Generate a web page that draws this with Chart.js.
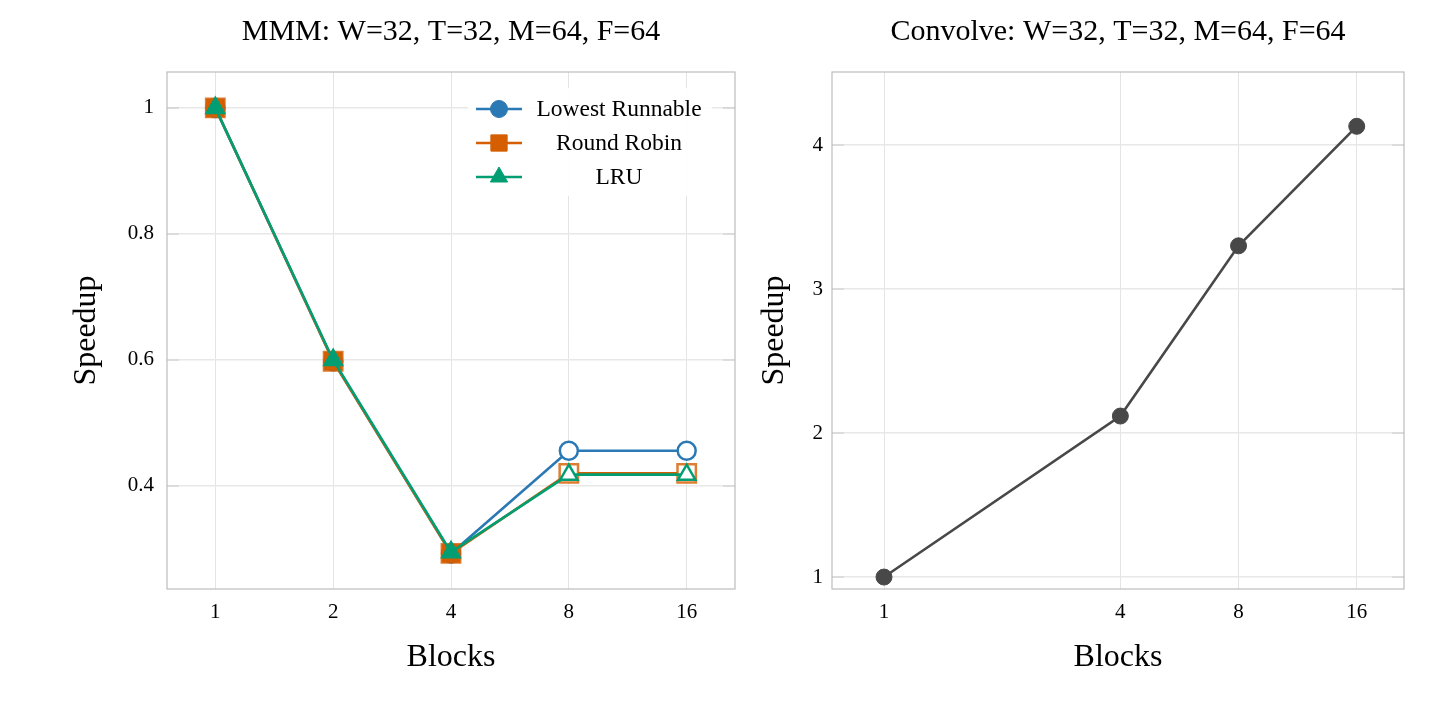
<!DOCTYPE html>
<html><head><meta charset="utf-8">
<script src="https://cdn.jsdelivr.net/npm/chart.js@4.4.1/dist/chart.umd.min.js"></script>
<style>
html,body{margin:0;padding:0;background:#fff;width:1440px;height:705px;overflow:hidden}
.box{position:absolute;top:0;height:705px}
#b1{left:0;width:760px}
#b2{left:740px;width:700px}
</style></head><body>
<div class="box" id="b1"><canvas id="c1"></canvas></div>
<div class="box" id="b2"><canvas id="c2"></canvas></div>
<script>
// ---- data ----
const mmmBlocks = [1, 2, 4, 8, 16];
const lowestRunnable = [1.0, 0.598, 0.293, 0.456, 0.456];
const roundRobin = [1.0, 0.598, 0.293, 0.420, 0.420];
const lru = [1.0, 0.600, 0.295, 0.418, 0.418];
const convBlocks = [1, 4, 8, 16];
const convSpeedup = [1.0, 2.118, 3.30, 4.13];
const mmmXTicks = [1, 2, 4, 8, 16];
const convXTicks = [1, 4, 8, 16];
const mmmYTicks = [0.4, 0.6, 0.8, 1];
const convYTicks = [1, 2, 3, 4];
const seriesNames = ['Lowest Runnable', 'Round Robin', 'LRU'];
const mmmTitle = 'MMM: W=32, T=32, M=64, F=64';
const convTitle = 'Convolve: W=32, T=32, M=64, F=64';

const SERIF = '"Liberation Serif", "DejaVu Serif", serif';
const BLUE = '#2a78b4', ORANGE = '#d55e00', GREEN = '#029e73', GRAY = '#484848';

const pts = (xs, ys) => xs.map((x, i) => ({x: x, y: ys[i]}));
const fills = (c, n, filledCount) => Array.from({length: n}, (_, i) => i < filledCount ? c : '#ffffff');

function drawMarker(ctx, style, x, y, r, fill, stroke, bw) {
  ctx.save();
  ctx.beginPath();
  if (style === 'circle') {
    ctx.arc(x, y, r, 0, Math.PI * 2);
  } else if (style === 'rect') {
    const s = Math.SQRT1_2 * r;
    ctx.rect(x - s, y - s, 2 * s, 2 * s);
  } else if (style === 'triangle') {
    for (let k = 0; k < 3; k++) {
      const a = -Math.PI / 2 + k * 2 * Math.PI / 3;
      const px = x + r * Math.cos(a), py = y + r * Math.sin(a);
      if (k === 0) ctx.moveTo(px, py); else ctx.lineTo(px, py);
    }
    ctx.closePath();
  }
  ctx.fillStyle = fill; ctx.fill();
  ctx.lineWidth = bw; ctx.strokeStyle = stroke; ctx.stroke();
  ctx.restore();
}

const frame = {
  id: 'frame',
  beforeDatasetsDraw(chart) {
    const a = chart.chartArea, ctx = chart.ctx;
    ctx.save();
    // inward tick marks on the y axis (both sides)
    ctx.strokeStyle = '#d6d6d6'; ctx.lineWidth = 1.6;
    chart.scales.y.ticks.forEach(t => {
      const py = chart.scales.y.getPixelForValue(t.value);
      ctx.beginPath();
      ctx.moveTo(a.left, py); ctx.lineTo(a.left + 12, py);
      ctx.moveTo(a.right - 12, py); ctx.lineTo(a.right, py);
      ctx.stroke();
    });
    ctx.strokeStyle = '#bdbdbd'; ctx.lineWidth = 1.2;
    ctx.strokeRect(a.left, a.top, a.right - a.left, a.bottom - a.top);
    ctx.restore();
  }
};

const innerLegend = {
  id: 'innerLegend',
  afterDatasetsDraw(chart, args, opts) {
    if (!opts || !opts.show) return;
    const a = chart.chartArea, ctx = chart.ctx;
    const x0 = a.right - 267, y0 = a.top + 16, w = 244, h = 108;
    ctx.save();
    ctx.fillStyle = 'rgba(255,255,255,0.9)';
    ctx.fillRect(x0, y0, w, h);
    chart.data.datasets.forEach((ds, i) => {
      const y = y0 + 21 + i * 34;
      ctx.strokeStyle = ds.borderColor; ctx.lineWidth = 2.6;
      ctx.beginPath(); ctx.moveTo(x0 + 8, y); ctx.lineTo(x0 + 54, y); ctx.stroke();
      drawMarker(ctx, ds.pointStyle, x0 + 31, y, ds.legendRadius, ds.borderColor, ds.borderColor, 1);
      ctx.fillStyle = '#000';
      ctx.font = '23.5px ' + SERIF;
      ctx.textAlign = 'center'; ctx.textBaseline = 'middle';
      ctx.fillText(ds.label, x0 + 151, y + 1);
    });
    ctx.restore();
  }
};

function makeChart(canvasId, cfg) {
  return new Chart(document.getElementById(canvasId), {
    type: 'line',
    data: {datasets: cfg.datasets},
    plugins: [frame, innerLegend],
    options: {
      responsive: true, maintainAspectRatio: false, animation: false, devicePixelRatio: 1,
      layout: {padding: {left: 0, right: cfg.padRight, top: 0, bottom: 0}},
      plugins: {
        legend: {display: false},
        tooltip: {enabled: false},
        title: {display: true, text: cfg.title, fullSize: false, color: '#000',
          font: {family: SERIF, size: 30, weight: 'normal'}, padding: {top: 14, bottom: 22}},
        innerLegend: {show: cfg.legend}
      },
      scales: {
        x: {
          type: 'logarithmic', bounds: 'data', min: cfg.xmin, max: cfg.xmax,
          afterBuildTicks: s => { s.ticks = cfg.xticks.map(v => ({value: v})); },
          afterFit: s => { s.height = 116; s.paddingLeft = 0; s.paddingRight = 0; },
          ticks: {callback: v => String(v), color: '#000', font: {family: SERIF, size: 21}, padding: 11, maxRotation: 0, autoSkip: false},
          grid: {color: '#e4e4e4', lineWidth: 1, drawTicks: false},
          border: {display: false},
          title: {display: true, text: 'Blocks', color: '#000', font: {family: SERIF, size: 32}, padding: {top: 0, bottom: 28}}
        },
        y: {
          type: 'linear', bounds: 'data', min: cfg.ymin, max: cfg.ymax,
          afterBuildTicks: s => { s.ticks = cfg.yticks.map(v => ({value: v})); },
          afterFit: s => { s.width = cfg.yWidth; s.paddingTop = 0; s.paddingBottom = 0; },
          ticks: {callback: v => String(v), color: '#000', font: {family: SERIF, size: 21}, padding: cfg.yTickPad},
          grid: {color: '#e8e8e8', lineWidth: 1.6, drawTicks: false},
          border: {display: false},
          title: {display: true, text: 'Speedup', color: '#000', font: {family: SERIF, size: 32}, padding: {top: cfg.yTitlePad, bottom: 0}}
        }
      }
    }
  });
}

makeChart('c1', {
  title: mmmTitle, legend: true, padRight: 25, yWidth: 167, yTitlePad: 67, yTickPad: 13,
  xmin: Math.pow(2, -0.41), xmax: Math.pow(2, 4.41), xticks: mmmXTicks,
  ymin: 0.2365, ymax: 1.057, yticks: mmmYTicks,
  datasets: [
    {label: seriesNames[0], data: pts(mmmBlocks, lowestRunnable), order: 3, borderColor: BLUE,
     pointBackgroundColor: fills(BLUE, 5, 3), pointBorderColor: BLUE, pointStyle: 'circle',
     pointRadius: 9, pointBorderWidth: 2.5, borderWidth: 2.6, legendRadius: 8.5},
    {label: seriesNames[1], data: pts(mmmBlocks, roundRobin), order: 2, borderColor: ORANGE,
     pointBackgroundColor: fills(ORANGE, 5, 3), pointBorderColor: 'rgba(213,94,0,0.8)', pointStyle: 'rect',
     pointRadius: 13, pointBorderWidth: 2.5, borderWidth: 2.6, legendRadius: 11.5},
    {label: seriesNames[2], data: pts(mmmBlocks, lru), order: 1, borderColor: GREEN,
     pointBackgroundColor: fills(GREEN, 5, 3), pointBorderColor: GREEN, pointStyle: 'triangle',
     pointRadius: 10, pointBorderWidth: 2.5, borderWidth: 2.6, legendRadius: 10}
  ]
});

makeChart('c2', {
  title: convTitle, legend: false, padRight: 36, yWidth: 92, yTitlePad: 15, yTickPad: 9,
  xmin: Math.pow(2, -0.44), xmax: Math.pow(2, 4.4), xticks: convXTicks,
  ymin: 0.917, ymax: 4.507, yticks: convYTicks,
  datasets: [
    {label: 'Speedup', data: pts(convBlocks, convSpeedup), borderColor: GRAY,
     pointBackgroundColor: GRAY, pointBorderColor: GRAY, pointStyle: 'circle',
     pointRadius: 8, pointBorderWidth: 1, borderWidth: 2.6}
  ]
});
</script>
</body></html>
